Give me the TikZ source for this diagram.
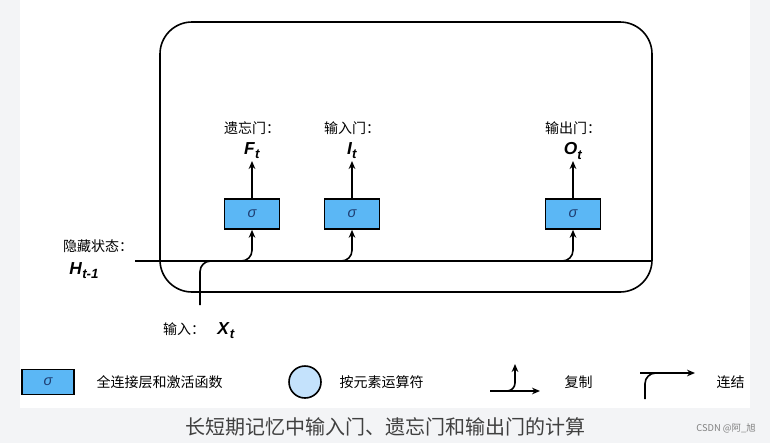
\documentclass[tikz,border=0pt]{standalone}
\usepackage{fontspec}
\setmainfont{Liberation Sans}
\newfontfamily\cjk{Noto Sans CJK SC}
\usetikzlibrary{arrows.meta}
\definecolor{gate}{HTML}{5BB7F5}
\definecolor{elem}{HTML}{C4E2FC}
\definecolor{bg}{HTML}{F3F4F6}
\definecolor{sig}{HTML}{1F3F73}
\newcommand{\gsym}[2]{\textbf{\textit{#1}}\raisebox{-0.45ex}{\textbf{\textit{\fontsize{10}{11}\selectfont #2}}}}
\begin{document}
\begin{tikzpicture}[x=0.75pt,y=-0.75pt,
  g/.style={draw,line width=1.2pt,fill=gate,minimum width=41pt,minimum height=22.5pt,inner sep=0pt,font=\itshape\fontsize{11}{12}\selectfont,text=sig},
  ln/.style={line width=1.2pt},
  ar/.style={ln,-{Stealth[length=6pt,width=5pt]}},
  lab/.style={font=\cjk\fontsize{10.5}{12}\selectfont},
  sym/.style={font=\fontsize{13}{14}\selectfont}]
\fill[bg] (0,0) rectangle (770,443);
\fill[white] (20,0) rectangle (750,408);
\useasboundingbox (0,0) rectangle (770,443);
\draw[ln,rounded corners=24] (160,22) rectangle (652,292);
\node[g] (F) at (252,214) {σ};
\node[g] (I) at (352,214) {σ};
\node[g] (O) at (573,214) {σ};
\foreach \n/\a/\b in {F/遗忘门：/F,I/输入门：/I,O/输出门：/O}{
  \node[lab] (\n l) at (\n.center |- 0,128) {\a};
  \node[sym] (\n s) at (\n.center |- 0,151) {\gsym{\b}{t}};
  \draw[ar] (\n.north) -- (\n.center |- 0,161);
}
\coordinate (hs) at (135,261);
\coordinate (he) at (652,261);
\coordinate (xs) at (200,305);
\draw[ln] (hs) -- (he);
\draw[ln,rounded corners=8] (xs) -- (200,261) -- (230,261);
\foreach \n in {F,I,O}{
  \draw[ar,rounded corners=8] ([xshift=-30]\n.center |- 0,261) -- (\n.center |- 0,261) -- (\n.south);
}
\node[lab] (hl) at (98,246) {隐藏状态：};
\node[sym] (hv) at (84,271) {\gsym{H}{t-1}};
\node[lab] (xl) at (184,329) {输入：};
\node[sym] (xv) at (226,331) {\gsym{X}{t}};
% legend
\node[g,minimum width=39pt,minimum height=19pt] (lg) at (48,382) {σ};
\node[lab,anchor=west] (lgt) at (92,382) {全连接层和激活函数};
\node[draw,line width=1.2pt,fill=elem,circle,minimum size=24pt,inner sep=0pt] (lc) at (305,382) {};
\node[lab,anchor=west] (lct) at (335,382) {按元素运算符};
\coordinate (c1) at (490,391); \coordinate (c2) at (540,391); \coordinate (c3) at (515,364);
\draw[ar] (c1) -- (c2);
\draw[ar,rounded corners=6] (508,391) -- (515,391) -- (c3);
\node[lab,anchor=west] (cpt) at (560,382) {复制};
\coordinate (j1) at (645,399); \coordinate (j2) at (695,373);
\draw[ar,rounded corners=8] (j1) -- (645,373) -- (j2);
\draw[ln] (640,373) -- (660,373);
\node[lab,anchor=west] (jt) at (712,382) {连结};
\node[font=\cjk\fontsize{15}{17}\selectfont,text=black!75] (cap) at (385,427) {长短期记忆中输入门、遗忘门和输出门的计算};
\node[font=\cjk\fontsize{7}{8}\selectfont,text=black!50] (csdn) at (726,428) {CSDN @阿\_旭};
\end{tikzpicture}
\end{document}
